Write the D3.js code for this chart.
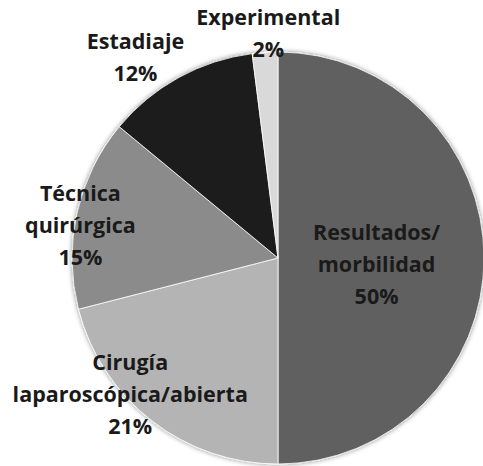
<!DOCTYPE html>
<html>
<head>
<meta charset="utf-8">
<script src="https://cdn.jsdelivr.net/npm/d3@7"></script>
<style>
  html, body { margin: 0; padding: 0; background: #fff; }
  svg { display: block; }
</style>
</head>
<body>
<svg id="chart" width="483" height="466"></svg>
<script>
'use strict';

// data, clockwise from 12 o'clock
const categories = ['Resultados/ morbilidad', 'Cirugía laparoscópica/abierta',
    'Técnica quirúrgica', 'Estadiaje', 'Experimental'];
const labelLines = [
    ['Resultados/', 'morbilidad'],
    ['Cirugía', 'laparoscópica/abierta'],
    ['Técnica', 'quirúrgica'],
    ['Estadiaje'],
    ['Experimental']
];
const values = [50, 21, 15, 12, 2];
const sliceColors = ['#606060', '#b4b4b4', '#8b8b8b', '#1f1f1f', '#d9d9d9'];

// label nudges from the arc centroid (0.6 R), Excel "best fit" look
const labelNudge = [[-25, 6], [-72, 39], [-77, -6], [-83, -92], [-2, -101]];

const width = 483;
const height = 466;
const cx = 278;
const cy = 258;
const radius = 206;
const lineH = 32;

let svg = d3.select('#chart');
let g = svg.append('g').attr('transform', 'translate(' + cx + ',' + cy + ')');

let defs = svg.append('defs');
let f = defs.append('filter').attr('id', 'shadow')
    .attr('x', '-10%').attr('y', '-10%').attr('width', '120%').attr('height', '120%');
f.append('feGaussianBlur').attr('in', 'SourceAlpha').attr('stdDeviation', 2.5);
f.append('feOffset').attr('dx', 0).attr('dy', 0).attr('result', 'blur');
f.append('feComponentTransfer').append('feFuncA').attr('type', 'linear').attr('slope', 0.45);
let merge = f.append('feMerge');
merge.append('feMergeNode');
merge.append('feMergeNode').attr('in', 'SourceGraphic');

let pie = d3.pie().sort(null).value(function(d) { return d; });
let arcs = pie(values);

let arc = d3.arc().innerRadius(0).outerRadius(radius);
let labelArc = d3.arc().innerRadius(radius * 0.6).outerRadius(radius * 0.6);

let color = d3.scaleOrdinal().domain(categories).range(sliceColors);

let slices = g.append('g').attr('filter', 'url(#shadow)');
slices.selectAll('path')
    .data(arcs)
    .enter().append('path')
    .attr('d', arc)
    .attr('fill', function(d, i) { return color(categories[i]); })
    .attr('stroke', '#ffffff')
    .attr('stroke-width', 0.8);

let labels = g.selectAll('.lbl')
    .data(arcs)
    .enter().append('text')
    .attr('class', 'lbl')
    .attr('text-anchor', 'middle')
    .attr('font-family', '"Open Sans", sans-serif')
    .attr('font-weight', 'bold')
    .attr('font-size', 21.5)
    .attr('fill', '#1a1a1a')
    .attr('transform', function(d, i) {
        let c = labelArc.centroid(d);
        return 'translate(' + (c[0] + labelNudge[i][0]) + ',' + (c[1] + labelNudge[i][1]) + ')';
    });

labels.each(function(d, i) {
    let lines = labelLines[i].concat([d.data + '%']);
    let t = d3.select(this);
    let top = -(lines.length - 1) * lineH / 2;
    lines.forEach(function(line, j) {
        t.append('tspan')
            .attr('x', 0)
            .attr('y', top + j * lineH)
            .attr('dy', '0.35em')
            .text(line);
    });
});
</script>
</body>
</html>
